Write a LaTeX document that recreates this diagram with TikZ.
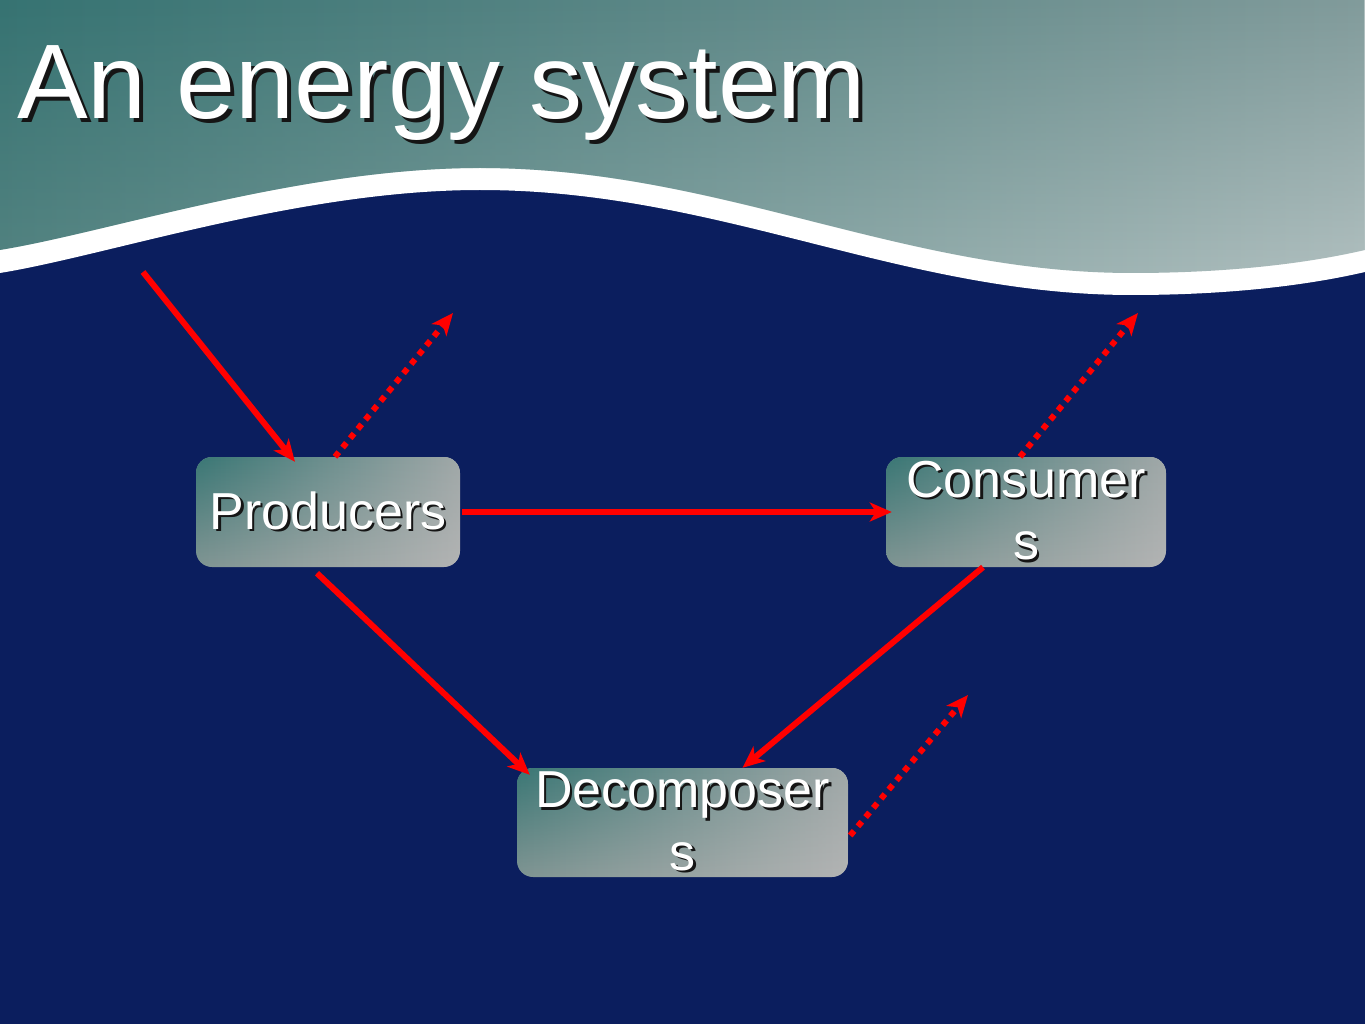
\documentclass[tikz,border=0pt]{standalone}
\usepackage{fontspec}
\setmainfont{Liberation Sans}
\usetikzlibrary{arrows.meta,fadings}
\definecolor{navy}{HTML}{0B1E5E}
\definecolor{bgTL}{HTML}{367372}
\definecolor{bgTR}{HTML}{819B9B}
\definecolor{bgBL}{HTML}{538381}
\definecolor{bgBR}{HTML}{B0BFBF}
\definecolor{boxTL}{HTML}{3A7775}
\definecolor{boxTR}{HTML}{A0A8A8}
\definecolor{boxBL}{HTML}{809593}
\definecolor{boxBR}{HTML}{B3B4B4}
\definecolor{shadowc}{HTML}{151515}
\definecolor{arrred}{HTML}{FF0000}
\tikzfading[name=fadetop, top color=transparent!0, bottom color=transparent!100]
\newcommand{\shd}[2][2.5pt]{\leavevmode\rlap{\kern#1\raisebox{-#1}{\textcolor{shadowc}{#2}}}#2}
\tikzset{
  boxnode/.style={rectangle, rounded corners=16pt, inner sep=0pt,
    left color=boxBL, right color=boxBR,
    path picture={\shade[left color=boxTL, right color=boxTR, path fading=fadetop]
      (path picture bounding box.south west) rectangle (path picture bounding box.north east);},
    text=white, align=center, minimum height=110pt,
    font=\fontsize{52}{62.4}\selectfont},
  flow/.style={draw=arrred, line width=6pt,
    -{Stealth[length=22pt, width=19pt, inset=6pt]}},
  loss/.style={flow, dash pattern=on 6pt off 6pt}
}
\begin{document}
\begin{tikzpicture}[x=1pt,y=-1pt]
\useasboundingbox (0,0) rectangle (1365,1024);
% background
\fill[navy] (0,0) rectangle (1365,1024);
\fill[white] (0,0) -- (0,273)
  .. controls (110,255) and (300,190) .. (480,190)
  .. controls (720,190) and (900,295) .. (1132,295)
  .. controls (1220,295) and (1300,287) .. (1365,272) -- (1365,0) -- cycle;
\def\toppath{(0,0) -- (0,250)
  .. controls (110,232) and (300,168) .. (480,168)
  .. controls (720,168) and (900,273) .. (1132,273)
  .. controls (1220,273) and (1300,265) .. (1365,250) -- (1365,0) -- cycle}
\shade[left color=bgBL, right color=bgBR] \toppath;
\shade[left color=bgTL, right color=bgTR, path fading=fadetop] \toppath;
% title
\node[anchor=base west, inner sep=0pt, text=white,
      font=\fontsize{106}{120}\selectfont] (title) at (17,119)
  {\shd[4pt]{An energy system}};
% boxes
\node[boxnode, minimum width=264pt] (prod) at (328,512) {\shd{Producers}};
\node[boxnode, minimum width=280pt] (cons) at (1026,512) {\shd{Consumer}\\\shd{s}};
\node[boxnode, minimum width=331pt, minimum height=109pt] (decomp) at (682.5,822.5)
  {\shd{Decomposer}\\\shd{s}};
% free ends
\coordinate (src) at (143,272);
\coordinate (out1) at (453,313);
\coordinate (out2) at (1138,313);
\coordinate (out3) at (968,695);
% connectors
\draw[flow] (src) -- ([xshift=-33pt,yshift=-5pt]prod.north);
\draw[loss] ([xshift=7pt]prod.north) -- (out1);
\draw[flow] ([xshift=2pt]prod.east) -- ([xshift=6pt]cons.west);
\draw[loss] ([xshift=-6pt]cons.north) -- (out2);
\draw[flow] ([xshift=-11pt,yshift=-6pt]prod.south) -- ([xshift=13pt,yshift=-7pt]decomp.north west);
\draw[flow] ([xshift=-43pt]cons.south) -- ([xshift=60pt]decomp.north);
\draw[loss] ([xshift=2pt,yshift=-13pt]decomp.east) -- (out3);
\end{tikzpicture}
\end{document}
